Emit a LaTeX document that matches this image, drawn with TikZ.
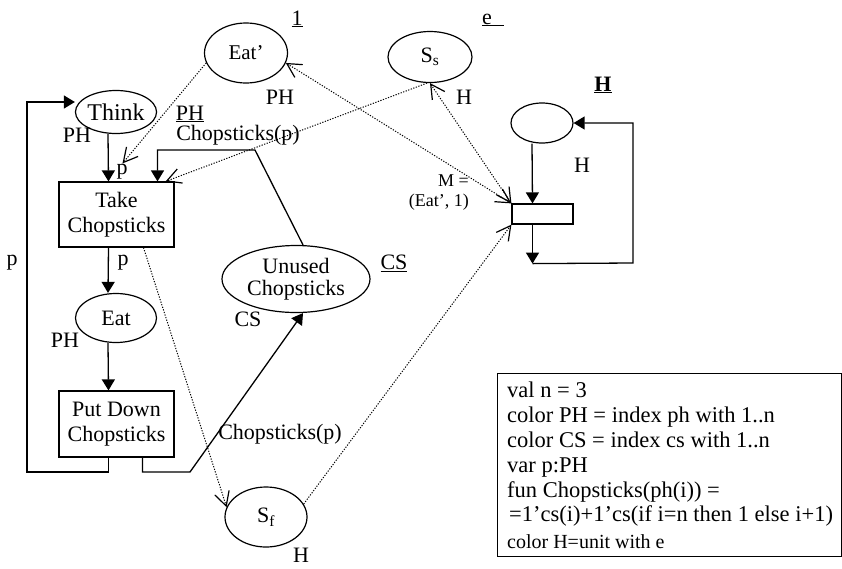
\documentclass[tikz,border=0pt]{standalone}
\usepackage{fontspec}
\setmainfont{Liberation Serif}
\usetikzlibrary{arrows.meta, shapes.geometric}

\begin{document}
\begin{tikzpicture}[x=1pt, y=-1pt, font=\fontsize{22}{25}\selectfont,
  place/.style={draw, ellipse, line width=1.2pt, inner sep=0pt, align=center},
  trans/.style={draw, rectangle, line width=1.2pt, inner sep=0pt, align=center},
  arc/.style={line width=1.3pt, -{Triangle[length=11pt,width=13pt]}},
  sync/.style={line width=1pt, dash pattern=on 1.2pt off 1.5pt,
    -{Straight Barb[length=14pt,width=15pt,line width=1.2pt]}},
  both/.style={sync, {Straight Barb[length=14pt,width=15pt,line width=1.2pt]}-{Straight Barb[length=14pt,width=15pt,line width=1.2pt]}},
  lbl/.style={inner sep=0pt},
  decl/.style={inner sep=0pt, anchor=base west, font=\fontsize{22.5}{25}\selectfont}]
  \useasboundingbox (0,0) rectangle (842,568);

  % Philosophers
  \node[place, minimum width=81pt, minimum height=43pt, font=\fontsize{24}{26}\selectfont] (think) at (116,112) {Think};
  \node[trans, minimum width=115pt, minimum height=65pt] (take) at (116.5,214.5) {Take\\Chopsticks};
  \node[place, minimum width=81pt, minimum height=49pt] (eat) at (116,318) {Eat};
  \node[trans, minimum width=115pt, minimum height=66pt] (putdown) at (116.5,424) {Put Down\\Chopsticks};
  \node[place, minimum width=148pt, minimum height=67pt, font=\fontsize{22}{22}\selectfont] (unused) at (296,279) {Unused\\Chopsticks};

  \draw[arc] ([xshift=-8pt]think.south) -- ([xshift=-8pt]take.north);
  \draw[arc] ([xshift=-8pt]take.south) -- ([xshift=-8pt]eat.north);
  \draw[arc] ([xshift=-8pt]eat.south) -- ([xshift=-8pt]putdown.north);
  \coordinate (backl) at (27,472);
  \draw[arc] ([xshift=-8pt]putdown.south) |- (backl) |- ([yshift=10pt]think.west);
  \coordinate (backr) at (190,472);
  \draw[arc] ([xshift=26pt]putdown.south) |- (backr) -- ([xshift=7pt]unused.south);
  \coordinate (bend) at (255,150);
  \draw[arc] ([xshift=7pt]unused.north) -- (bend) -| ([xshift=41pt]take.north);

  \node[lbl] (thinkph) at (77,135) {PH};
  \node[lbl] (pin) at (122,172) {p};
  \node[lbl] (phtype) at (190,114) {\underline{PH}};
  \node[lbl] (cstake) at (238,135) {Chopsticks(p)};
  \node[lbl] (pback) at (12,263) {p};
  \node[lbl] (pout) at (123,263) {p};
  \node[lbl] (eatph) at (65,340) {PH};
  \node[lbl] (cstype) at (394,263) {\underline{CS}};
  \node[lbl] (csph) at (248,319) {CS};
  \node[lbl] (csput) at (280,434) {Chopsticks(p)};

  % Monitor places
  \node[place, minimum width=83pt, minimum height=60pt, font=\fontsize{21}{22}\selectfont] (eatp) at (246,53) {Eat’};
  \node[place, minimum width=84pt, minimum height=51pt] (ss) at (430,57) {S\textsubscript{s}};
  \node[place, minimum width=82pt, minimum height=60pt] (sf) at (266,517) {S\textsubscript{f}};
  \node[place, minimum width=62pt, minimum height=40pt] (hplace) at (542,123) {};
  \node[trans, minimum width=61pt, minimum height=20pt] (mtrans) at (542.5,214) {};

  \node[lbl] (one) at (297,19) {\underline{1}};
  \node[lbl] (eunit) at (493,20) {\underline{e\hspace{12pt}}};
  \node[lbl] (eatpph) at (280,97) {PH};
  \node[lbl] (ssh) at (464,97) {H};
  \node[lbl] (htype) at (603,85) {\textbf{\underline{H}}};
  \node[lbl] (hh) at (582,165) {H};
  \node[lbl] (sfh) at (301,555) {H};
  \node[lbl, align=right, anchor=east, font=\fontsize{18}{20}\selectfont] (mark) at (469,193) {M =\\(Eat’, 1)};

  \draw[arc] ([xshift=-10pt]hplace.south) -- ([xshift=-10pt]mtrans.north);
  \draw[arc] ([xshift=-10pt]mtrans.south) -- ++(0,39) coordinate (hturn);
  \coordinate (hright) at (633,263);
  \draw[arc] (hturn) -- (hright) |- (hplace.east);

  \draw[both] (eatp.-14) -- (mtrans.north west);
  \draw[both] (ss.south) -- (mtrans.north west);
  \draw[sync] ([xshift=-3pt]ss.south) -- ([xshift=-9pt]take.north east);
  \draw[sync] (eatp.194) -- ([xshift=6pt,yshift=18pt]take.north);
  \draw[sync] ([xshift=27pt]take.south) -- (sf.166);
  \draw[sync] (sf.19) -- (mtrans.south west);

  % Declarations
  \node[draw, line width=1pt, minimum width=344pt, minimum height=183pt, anchor=north west] (declbox) at (497,373) {};
  \node[decl] (decl1) at (507,397) {val n = 3};
  \node[decl] (decl2) at (507,422) {color PH = index ph with 1..n};
  \node[decl] (decl3) at (507,447) {color CS = index cs with 1..n};
  \node[decl] (decl4) at (507,472) {var p:PH};
  \node[decl] (decl5) at (507,497) {fun Chopsticks(ph(i)) =};
  \node[decl] (decl6) at (509,521) {=1’cs(i)+1’cs(if i=n then 1 else i+1)};
  \node[decl, font=\fontsize{20}{24}\selectfont] (decl7) at (507,548) {color H=unit with e};
\end{tikzpicture}
\end{document}
